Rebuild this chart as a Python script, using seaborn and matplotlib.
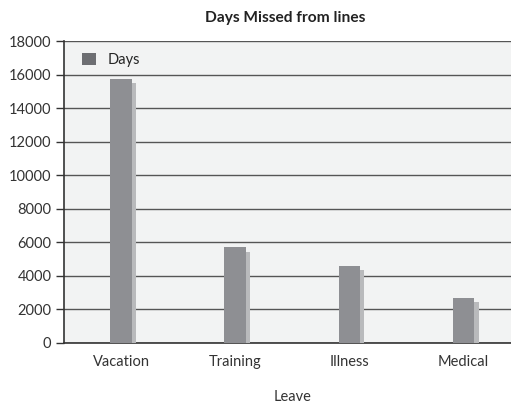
import seaborn as sns  # plotting
import matplotlib.pyplot as plt
import matplotlib.patheffects as pe
import pandas as pd

# data
categories = ["Vacation", "Training", "Illness", "Medical"]
days = [15750, 5700, 4600, 2700]
y_ticks = [0, 2000, 4000, 6000, 8000, 10000, 12000, 14000, 16000, 18000]

df = pd.DataFrame({"Leave": categories, "Days": days})

sns.set_style("white")
plt.rcParams["font.family"] = ["Lato", "DejaVu Sans"]

fig = plt.figure(figsize=(5.11, 4.04), dpi=100)
ax = fig.add_axes([0.125, 0.151, 0.894, 0.7475])
ax.set_facecolor("#f2f3f3")

# bars with a light drop shadow
sns.barplot(data=df, x="Leave", y="Days", color="#8e8f93", width=0.19,
            saturation=1, label="Days", ax=ax, zorder=3, edgecolor="none", linewidth=0)
for bar in ax.patches:
    bar.set_path_effects([pe.SimplePatchShadow(offset=(3, -3), shadow_rgbFace="#b9babc", alpha=1),
                          pe.Normal()])

ax.set_ylim(0, 18000)
ax.set_xlim(-0.5, 3.5)
ax.set_yticks(y_ticks)
ax.set_yticklabels([str(v) for v in y_ticks], fontsize=10.5, color="#333333")
ax.yaxis.grid(True, color="#555555", linewidth=1.0, zorder=1)
ax.set_axisbelow(True)

# category labels centered, tick marks between categories
ax.set_xticks([-0.5, 0.5, 1.5, 2.5])
ax.set_xticklabels([])
ax.set_xticks([0, 1, 2, 3], minor=True)
ax.set_xticklabels(categories, minor=True, fontsize=10.5, color="#333333")
ax.tick_params(axis="x", which="major", direction="out", length=7, width=1, color="#333333")
ax.tick_params(axis="x", which="minor", length=0, pad=9)
ax.tick_params(axis="y", direction="out", length=6, width=1, color="#333333", left=True, pad=3)

for side in ["top", "right"]:
    ax.spines[side].set_visible(False)
ax.spines["left"].set_color("#333333")
ax.spines["bottom"].set_color("#333333")
ax.spines["left"].set_linewidth(1.2)
ax.spines["bottom"].set_linewidth(1.2)

ax.set_title("Days Missed from lines", fontsize=11.2, fontweight="bold", color="#222222", pad=14, x=0.485)
ax.set_xlabel("Leave", fontsize=10.5, color="#333333", labelpad=15)
ax.set_ylabel("")

leg = ax.legend(loc="upper left", frameon=False, fontsize=10.5, handlelength=0.9,
                handleheight=0.9, borderaxespad=0.4, bbox_to_anchor=(0.015, 1.0))
for h in leg.legend_handles:
    h.set_path_effects([])
    h.set_color("#6d6e72")

fig.savefig("out.png", dpi=100)
